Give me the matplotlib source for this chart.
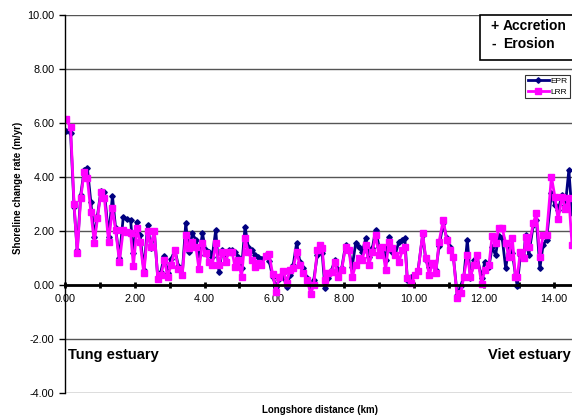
import matplotlib
matplotlib.use("Agg")
import matplotlib.pyplot as plt
from matplotlib.patches import Rectangle
from matplotlib.ticker import MultipleLocator, FormatStrFormatter

plt.rcParams['font.family'] = ['Liberation Sans', 'DejaVu Sans']

# longshore distance (km) of each transect
dist = [0.03, 0.16, 0.26, 0.35, 0.45, 0.55, 0.64, 0.74, 0.84, 0.93,
        1.03, 1.13, 1.25, 1.36, 1.45, 1.56, 1.67, 1.78, 1.88, 1.96,
        2.06, 2.15, 2.26, 2.37, 2.46, 2.56, 2.66, 2.75, 2.85, 2.94,
        3.04, 3.15, 3.25, 3.36, 3.46, 3.55, 3.65, 3.75, 3.84, 3.94,
        4.03, 4.13, 4.22, 4.32, 4.41, 4.51, 4.60, 4.70, 4.79, 4.87,
        4.97, 5.06, 5.16, 5.25, 5.35, 5.44, 5.54, 5.63, 5.76, 5.85,
        5.95, 6.05, 6.14, 6.26, 6.35, 6.45, 6.54, 6.64, 6.73, 6.83,
        6.94, 7.04, 7.13, 7.23, 7.31, 7.37, 7.45, 7.55, 7.64, 7.74,
        7.83, 7.93, 8.04, 8.14, 8.23, 8.33, 8.42, 8.52, 8.62, 8.71,
        8.81, 8.90, 9.00, 9.09, 9.19, 9.28, 9.38, 9.47, 9.57, 9.67,
        9.74, 9.81, 9.93, 10.03, 10.12, 10.25, 10.34, 10.44, 10.53, 10.63,
        10.72, 10.84, 10.94, 11.03, 11.13, 11.24, 11.34, 11.43, 11.53, 11.62,
        11.72, 11.81, 11.94, 12.03, 12.15, 12.24, 12.34, 12.43, 12.53, 12.63,
        12.72, 12.82, 12.91, 12.96, 13.05, 13.15, 13.20, 13.29, 13.42, 13.51,
        13.61, 13.70, 13.80, 13.94, 14.04, 14.13, 14.25, 14.34, 14.44, 14.53]

# End Point Rate (m/yr)
epr = [5.72, 5.63, 2.90, 1.30, 3.33, 4.26, 4.35, 3.08, 1.79, 2.56,
       3.50, 3.46, 1.79, 3.30, 2.10, 0.99, 2.53, 2.44, 2.40, 1.17,
       2.33, 1.85, 0.56, 2.22, 1.36, 1.97, 0.25, 0.50, 1.08, 0.45,
       0.95, 1.30, 0.70, 0.40, 2.28, 1.23, 1.91, 1.67, 1.11, 1.91,
       1.30, 1.23, 1.05, 2.04, 0.50, 1.30, 0.93, 1.30, 1.30, 1.23,
       1.05, 0.62, 2.16, 1.42, 1.30, 1.11, 1.02, 0.95, 1.11, 0.90,
       0.31, -0.06, 0.21, 0.31, -0.06, 0.37, 0.74, 1.57, 0.86, 0.62,
       0.25, -0.04, 0.19, 1.11, 1.48, 1.20, -0.12, 0.25, 0.56, 0.93,
       0.56, 0.62, 1.48, 1.27, 0.68, 1.54, 1.42, 1.23, 1.73, 1.05,
       1.36, 2.04, 1.42, 1.23, 0.93, 1.77, 1.23, 1.17, 1.60, 1.67,
       1.73, 0.19, 0.28, 0.37, 0.56, 1.85, 0.93, 0.68, 0.80, 0.56,
       1.44, 2.28, 1.73, 1.42, 1.05, -0.37, -0.04, 0.31, 1.67, 0.25,
       0.93, 1.05, 0.25, 0.86, 0.68, 1.40, 1.11, 1.81, 1.73, 0.62,
       1.40, 1.20, 0.37, -0.04, 1.10, 1.05, 1.85, 1.11, 2.22, 2.41,
       0.62, 1.48, 1.67, 3.40, 2.96, 2.78, 3.33, 2.96, 4.26, 2.65]

# Linear Regression Rate (m/yr)
lrr = [6.14, 5.84, 3.00, 1.17, 3.21, 4.20, 3.95, 2.72, 1.57, 2.47,
       3.46, 3.21, 1.60, 2.84, 2.04, 0.86, 2.04, 1.97, 1.93, 0.70,
       2.10, 1.60, 0.43, 2.00, 1.42, 2.01, 0.21, 0.37, 0.93, 0.31,
       0.74, 1.30, 0.58, 0.37, 1.85, 1.36, 1.60, 1.42, 0.58, 1.57,
       1.17, 0.86, 0.74, 1.54, 0.74, 1.23, 0.86, 1.23, 1.23, 0.68,
       0.93, 0.28, 1.73, 1.23, 0.93, 0.65, 0.80, 0.74, 1.07, 1.15,
       0.41, -0.25, 0.31, 0.53, 0.06, 0.56, 0.62, 1.23, 0.74, 0.43,
       0.19, -0.33, 0.00, 1.30, 1.48, 1.36, 0.19, 0.43, 0.49, 0.86,
       0.31, 0.56, 1.42, 1.30, 0.29, 0.74, 0.99, 0.93, 1.48, 0.74,
       1.23, 1.85, 1.11, 1.42, 0.56, 1.60, 1.36, 1.11, 0.86, 1.30,
       1.42, 0.25, 0.09, 0.37, 0.53, 1.91, 0.99, 0.37, 0.80, 0.46,
       1.60, 2.41, 1.67, 1.30, 1.05, -0.49, -0.31, 0.31, 1.11, 0.31,
       0.74, 1.11, 0.04, 0.56, 0.74, 1.81, 1.54, 2.10, 2.10, 1.54,
       1.05, 1.73, 0.31, 0.30, 1.23, 0.99, 1.79, 1.42, 2.28, 2.68,
       1.05, 1.85, 1.85, 4.01, 3.27, 2.43, 3.27, 2.80, 3.21, 1.50]

fig = plt.figure(figsize=(5.72, 4.19), dpi=100)
ax = fig.add_axes([65 / 572, 1 - 393 / 419, 1 - 65 / 572, (393 - 15) / 419])

ax.set_xlim(0, 14.53)
ax.set_ylim(-4, 10)
ax.yaxis.set_major_locator(MultipleLocator(2))
ax.yaxis.set_major_formatter(FormatStrFormatter('%.2f'))
ax.xaxis.set_major_locator(MultipleLocator(2))
ax.xaxis.set_minor_locator(MultipleLocator(1))
ax.xaxis.set_major_formatter(FormatStrFormatter('%.2f'))
ax.grid(axis='y', color='#555555', lw=1)
ax.set_axisbelow(True)

for s in ['top', 'right']:
    ax.spines[s].set_visible(False)
ax.spines['bottom'].set_position(('data', 0))
ax.spines['bottom'].set_linewidth(2)
ax.spines['left'].set_linewidth(1)
ax.tick_params(axis='x', which='both', direction='inout', length=5, width=2, labelsize=7.8, pad=4)
ax.tick_params(axis='y', direction='out', length=4, width=1, labelsize=7.8)

ax.plot(dist, epr, color='#000080', lw=2, marker='D', ms=2.8, label='EPR')
ax.plot(dist, lrr, color='#FF00FF', lw=2, marker='s', ms=4, label='LRR')

leg = fig.legend(loc='upper left', bbox_to_anchor=(525 / 572, 1 - 75 / 419), fontsize=6,
                 frameon=True, fancybox=False, edgecolor='black', handlelength=2.6,
                 borderpad=0.3, labelspacing=0.3, handletextpad=0.2, borderaxespad=0)
leg.get_frame().set_linewidth(0.8)

fig.patches.append(Rectangle((480 / 572, 1 - 60 / 419), 0.2, 45 / 419, transform=fig.transFigure,
                             facecolor='white', edgecolor='black', lw=1.2))
fig.text(490 / 572, 1 - 26 / 419, '+', fontsize=10, fontweight='bold', ha='left', va='center')
fig.text(503 / 572, 1 - 26 / 419, 'Accretion', fontsize=10, fontweight='bold', ha='left', va='center')
fig.text(491 / 572, 1 - 44 / 419, '-', fontsize=10, fontweight='bold', ha='left', va='center')
fig.text(503 / 572, 1 - 44 / 419, 'Erosion', fontsize=10, fontweight='bold', ha='left', va='center')

ax.text(0.1, -2.6, 'Tung estuary', fontsize=10.5, fontweight='bold', ha='left', va='center')
ax.text(14.5, -2.6, 'Viet estuary', fontsize=10.5, fontweight='bold', ha='right', va='center')

fig.text(18 / 572, 1 - 188 / 419, 'Shoreline change rate (m/yr)', fontsize=7, fontweight='bold',
         rotation=90, ha='center', va='center')
fig.text(320 / 572, 1 - 410 / 419, 'Longshore distance (km)', fontsize=7, fontweight='bold',
         ha='center', va='center')

fig.savefig('out.png', dpi=100)
